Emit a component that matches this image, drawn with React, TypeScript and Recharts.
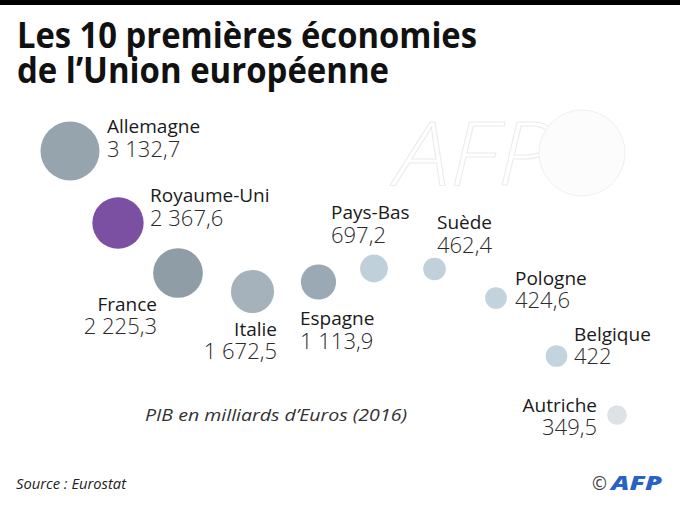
import React from 'react';
import { ScatterChart, Scatter, XAxis, YAxis, ZAxis, Cell } from 'recharts';

// ---- data ----
const countries = ['Allemagne', 'Royaume-Uni', 'France', 'Italie', 'Espagne', 'Pays-Bas', 'Suède', 'Pologne', 'Belgique', 'Autriche'];
const gdp = [3132.7, 2367.6, 2225.3, 1672.5, 1113.9, 697.2, 462.4, 424.6, 422, 349.5];
const gdpLabels = ['3 132,7', '2 367,6', '2 225,3', '1 672,5', '1 113,9', '697,2', '462,4', '424,6', '422', '349,5'];

// ---- layout (bubble placement in chart units) ----
const layoutX = [70, 118, 178, 252.5, 318.5, 374, 434.5, 496, 556.5, 617];
const layoutY = [151, 223, 273, 291.5, 282, 268.5, 269, 298, 356, 415];

const colors = ['#96a4ad', '#7b4fa1', '#8e9da6', '#a5b2bb', '#9aa9b3', '#c0d0da', '#c0d1db', '#c2d3dd', '#c3d4de', '#dde2e6'];

type LabelPos = { dx: number; anchor: 'start' | 'end'; dyName: number; dyValue: number };
const labelLayout: LabelPos[] = [
  { dx: 37, anchor: 'start', dyName: -18, dyValue: 6 },
  { dx: 32, anchor: 'start', dyName: -21, dyValue: 3 },
  { dx: -21, anchor: 'end', dyName: 38, dyValue: 61 },
  { dx: 24.5, anchor: 'end', dyName: 44.5, dyValue: 67.5 },
  { dx: -18.5, anchor: 'start', dyName: 43, dyValue: 67 },
  { dx: -43, anchor: 'start', dyName: -49.5, dyValue: -25.5 },
  { dx: 2.5, anchor: 'start', dyName: -40, dyValue: -16 },
  { dx: 19, anchor: 'start', dyName: -13, dyValue: 10 },
  { dx: 17.5, anchor: 'start', dyName: -15, dyValue: 8 },
  { dx: -20, anchor: 'end', dyName: -3, dyValue: 20 },
];

const data = countries.map((name, i) => ({
  name,
  gdp: gdp[i],
  label: gdpLabels[i],
  x: layoutX[i],
  y: layoutY[i],
  idx: i,
}));

const MAX_R = 29.5;
const FONT = '"Open Sans", "Noto Sans", sans-serif';

const BubbleShape = (props: any) => {
  const { cx, cy, payload, fill } = props;
  const r = props.width ? props.width / 2 : Math.sqrt((props.size || 0) / Math.PI);
  const lp = labelLayout[payload.idx];
  return (
    <g>
      <circle cx={cx} cy={cy} r={r} fill={fill} />
      <text x={cx + lp.dx} y={cy + lp.dyName} textAnchor={lp.anchor} fontFamily={FONT} fontSize={19} fill="#1a1a1a">
        {payload.name}
      </text>
      <text x={cx + lp.dx} y={cy + lp.dyValue} textAnchor={lp.anchor} fontFamily={FONT} fontWeight={300} fontSize={22} fill="#2a2a2a">
        {payload.label}
      </text>
    </g>
  );
};

export default function App() {
  return (
    <div style={{ position: 'fixed', left: 0, top: 0, width: 680, height: 506, background: '#ffffff', overflow: 'hidden' }}>
      <svg width={680} height={506} style={{ position: 'absolute', left: 0, top: 0 }}>
        <rect x={0} y={0} width={680} height={5} fill="#000" />
        {/* faint watermark */}
        <text x={395} y={185} fontFamily={FONT} fontStyle="italic" fontWeight={300} fontSize={88} fill="#ffffff" stroke="#ececec" strokeWidth={1} textLength={158} lengthAdjust="spacingAndGlyphs">AFP</text>
        <circle cx={582} cy={153} r={43} fill="#fcfcfc" stroke="#f0f0f0" strokeWidth={1} />
        <text x={17} y={48} fontFamily={FONT} fontWeight={700} fontSize={35} fill="#111" textLength={460} lengthAdjust="spacingAndGlyphs">Les 10 premières économies</text>
        <text x={17} y={83} fontFamily={FONT} fontWeight={700} fontSize={35} fill="#111" textLength={372} lengthAdjust="spacingAndGlyphs">de l’Union européenne</text>
        <text x={145} y={421} fontFamily={FONT} fontStyle="italic" fontSize={16.5} fill="#333" textLength={262} lengthAdjust="spacingAndGlyphs">PIB en milliards d’Euros (2016)</text>
        <text x={16} y={489} fontFamily={FONT} fontStyle="italic" fontSize={14} fill="#222" textLength={110} lengthAdjust="spacingAndGlyphs">Source : Eurostat</text>
        <text x={592} y={490} fontFamily={FONT} fontSize={18} fill="#444">©</text>
        <text x={611} y={490} fontFamily={FONT} fontStyle="italic" fontWeight={800} fontSize={20} fill="#2762c4" textLength={51} lengthAdjust="spacingAndGlyphs">AFP</text>
      </svg>
      <div style={{ position: 'absolute', left: 0, top: 0 }}>
        <ScatterChart width={680} height={506} margin={{ top: 0, right: 0, bottom: 0, left: 0 }}>
          <XAxis type="number" dataKey="x" domain={[0, 680]} hide />
          <YAxis type="number" dataKey="y" domain={[0, 506]} reversed hide />
          <ZAxis type="number" dataKey="gdp" domain={[0, gdp[0]]} range={[0, Math.PI * MAX_R * MAX_R]} />
          <Scatter data={data} isAnimationActive={false} shape={BubbleShape}>
            {data.map((d, i) => (
              <Cell key={d.name} fill={colors[i]} />
            ))}
          </Scatter>
        </ScatterChart>
      </div>
    </div>
  );
}
